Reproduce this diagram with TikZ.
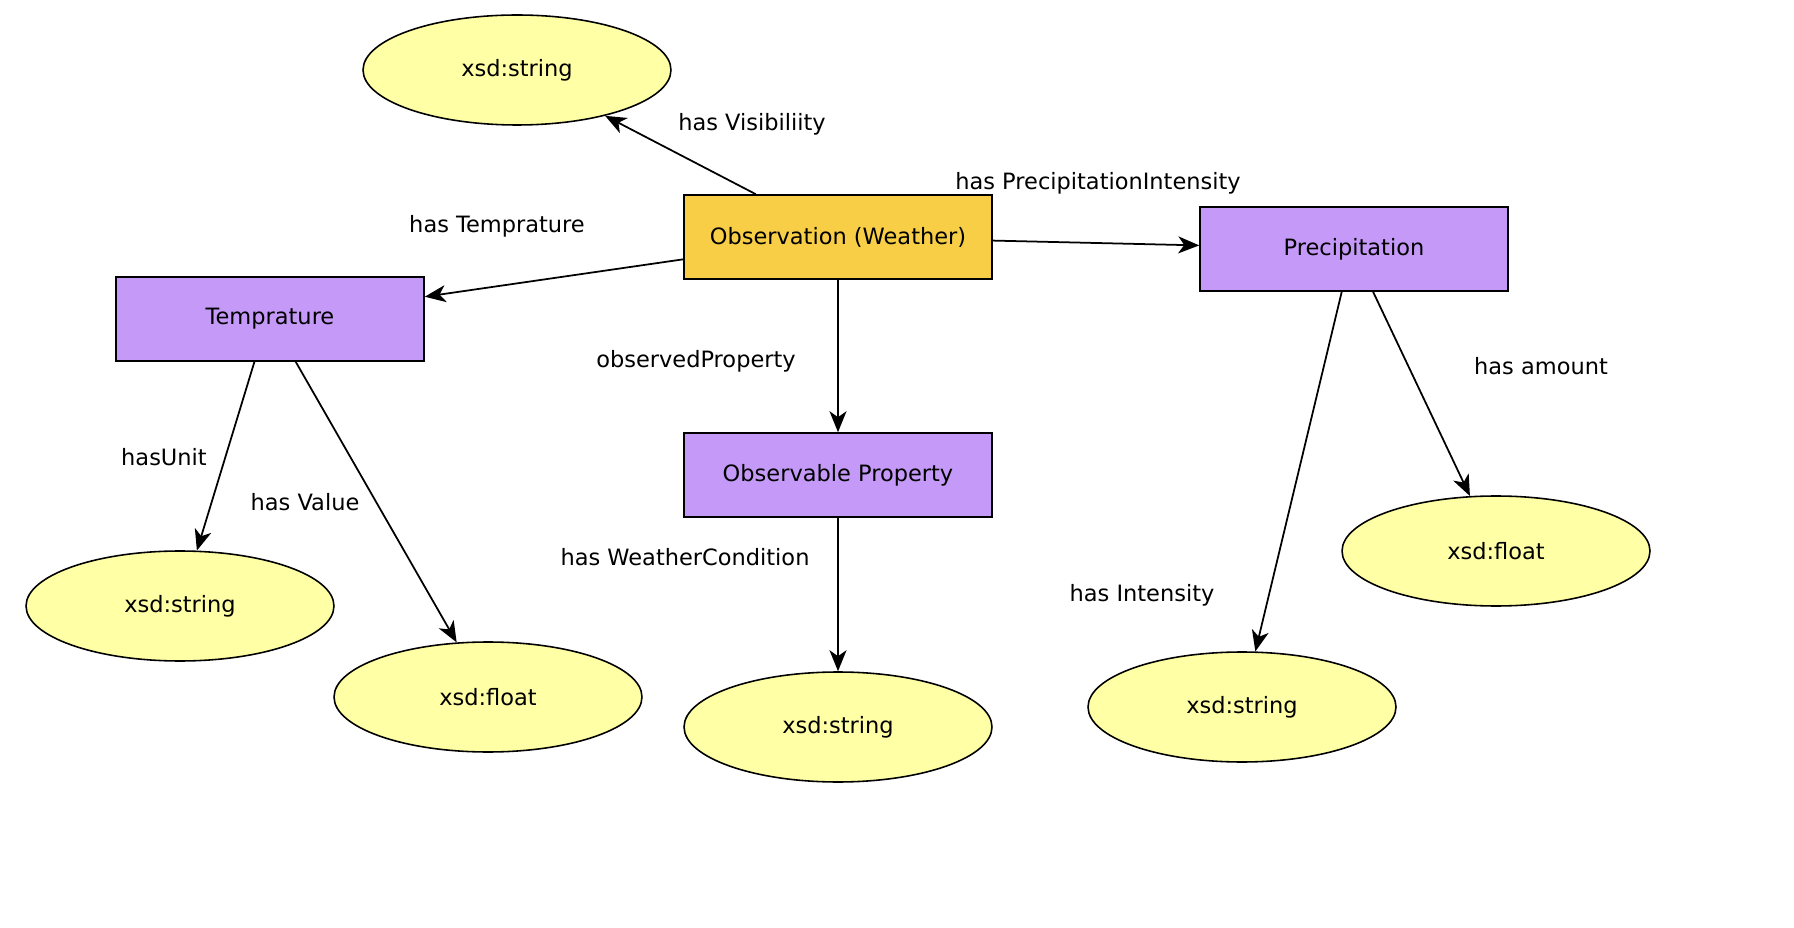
\documentclass[tikz,border=0pt]{standalone}
\usepackage{fontspec}
\setmainfont{DejaVu Sans}
\usepackage{tikz}
\usetikzlibrary{shapes, arrows, arrows.meta}

\definecolor{obsYellow}{HTML}{F7CE46}
\definecolor{classPurple}{HTML}{C599F8}
\definecolor{litYellow}{HTML}{FFFFA5}

\begin{document}
\begin{tikzpicture}[
    x=0.02cm, y=-0.02cm,
    classBox/.style={draw, line width=0.9pt, minimum width=6.16cm, minimum height=1.68cm, inner sep=0pt},
    litEllipse/.style={ellipse, draw, line width=0.9pt, fill=litYellow, minimum width=6.16cm, minimum height=2.2cm, inner sep=0pt},
    edgeLabel/.style={inner sep=0pt},
    every node/.style={
        text centered,
        font=\fontsize{12.8}{15}\selectfont,
        }
        ]
    \useasboundingbox (0, 0) rectangle (1794, 928);

    \node[classBox, fill=obsYellow] (obs) at (838, 237) {Observation (Weather)};
    \node[classBox, fill=classPurple] (temp) at (270, 319) {Temprature};
    \node[classBox, fill=classPurple] (precip) at (1354, 249) {Precipitation};
    \node[classBox, fill=classPurple] (prop) at (838, 475) {Observable Property};

    \node[litEllipse] (visString) at (517, 70) {xsd:string};
    \node[litEllipse] (unitString) at (180, 606) {xsd:string};
    \node[litEllipse] (valueFloat) at (488, 697) {xsd:float};
    \node[litEllipse] (condString) at (838, 727) {xsd:string};
    \node[litEllipse] (intString) at (1242, 707) {xsd:string};
    \node[litEllipse] (amountFloat) at (1496, 551) {xsd:float};

    \node[edgeLabel] (lVis) at (752, 124) {has Visibiliity};
    \node[edgeLabel] (lPrecip) at (1098, 183) {has PrecipitationIntensity};
    \node[edgeLabel] (lTemp) at (497, 226) {has Temprature};
    \node[edgeLabel] (lProp) at (696, 361) {observedProperty};
    \node[edgeLabel] (lUnit) at (164, 457) {hasUnit};
    \node[edgeLabel] (lValue) at (305, 502) {has Value};
    \node[edgeLabel] (lCond) at (685, 557) {has WeatherCondition};
    \node[edgeLabel] (lAmount) at (1541, 366) {has amount};
    \node[edgeLabel] (lInt) at (1142, 595) {has Intensity};

    \draw[->, >={Stealth[length=0.42cm, width=0.34cm, inset=0.12cm]}, line width=1pt] (obs) -- (visString);
    \draw[->, >={Stealth[length=0.42cm, width=0.34cm, inset=0.12cm]}, line width=1pt] (obs) -- (temp);
    \draw[->, >={Stealth[length=0.42cm, width=0.34cm, inset=0.12cm]}, line width=1pt] (obs) -- (precip);
    \draw[->, >={Stealth[length=0.42cm, width=0.34cm, inset=0.12cm]}, line width=1pt] (obs) -- (prop);
    \draw[->, >={Stealth[length=0.42cm, width=0.34cm, inset=0.12cm]}, line width=1pt] (temp.250) -- (unitString);
    \draw[->, >={Stealth[length=0.42cm, width=0.34cm, inset=0.12cm]}, line width=1pt] (temp.301) -- (valueFloat);
    \draw[->, >={Stealth[length=0.42cm, width=0.34cm, inset=0.12cm]}, line width=1pt] (prop) -- (condString);
    \draw[->, >={Stealth[length=0.42cm, width=0.34cm, inset=0.12cm]}, line width=1pt] (precip.254) -- (intString);
    \draw[->, >={Stealth[length=0.42cm, width=0.34cm, inset=0.12cm]}, line width=1pt] (precip.294) -- (amountFloat);
\end{tikzpicture}
\end{document}
